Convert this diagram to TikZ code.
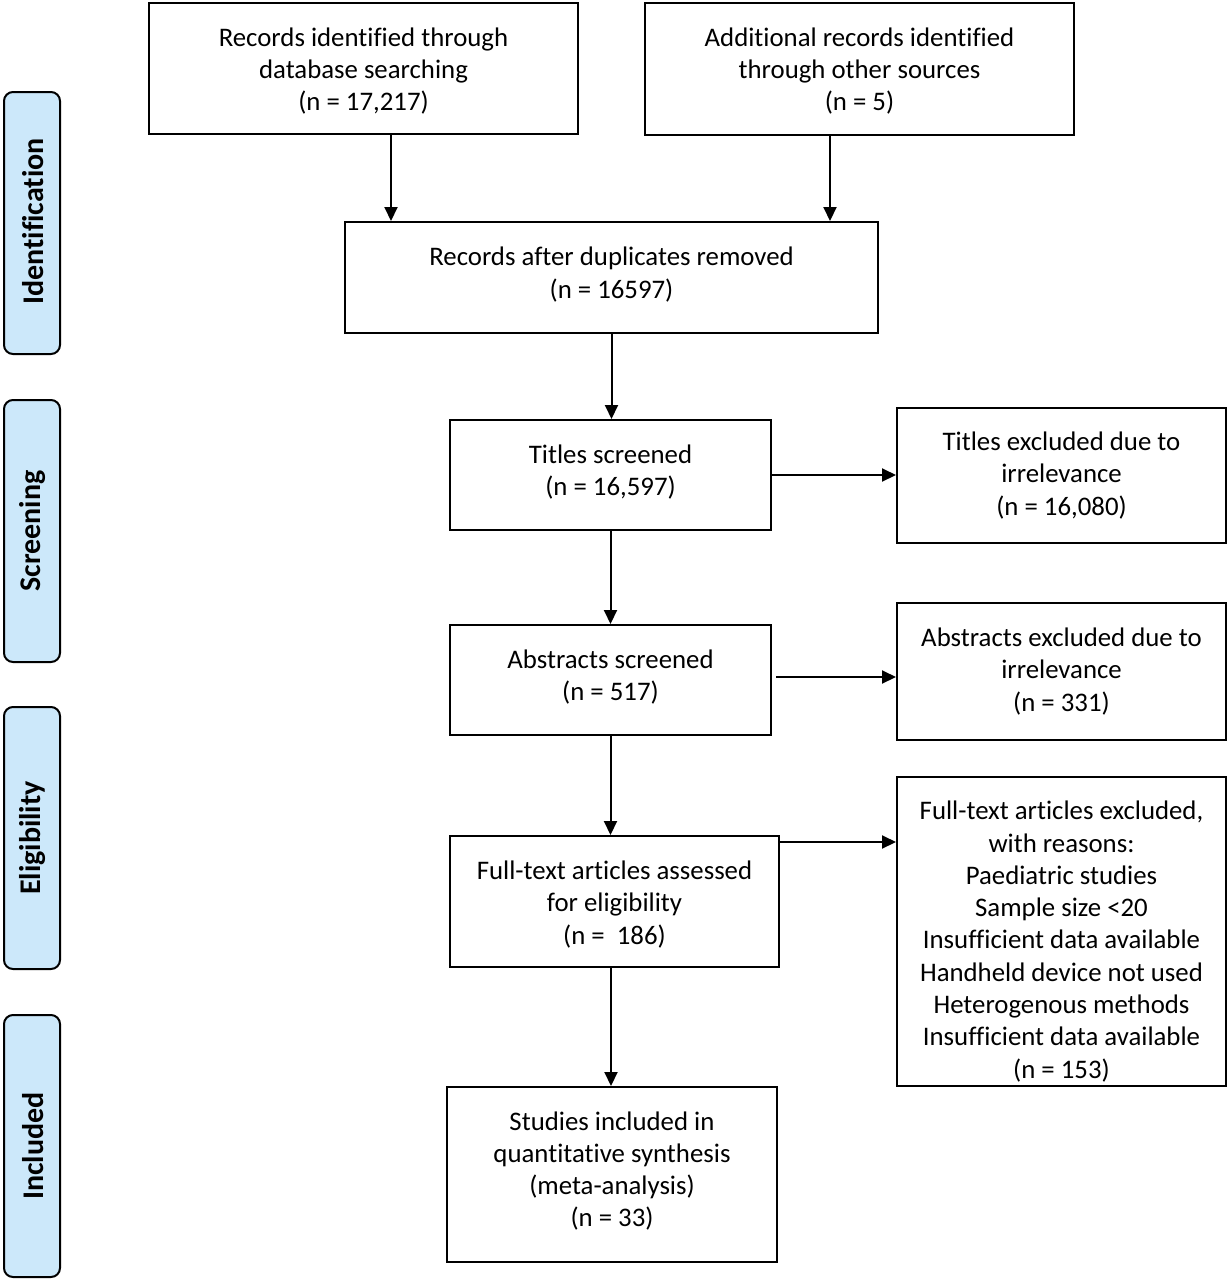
\documentclass[tikz,border=0pt]{standalone}
\usepackage{fontspec}
\setmainfont[Ligatures=NoCommon]{Carlito}
\usetikzlibrary{arrows.meta}
\definecolor{sidefill}{RGB}{204,232,250}
\tikzset{
  box/.style={draw=black, line width=2pt, inner sep=0pt},
  txt/.style={inner sep=0pt, align=center, font=\fontsize{26.8}{32.3}\selectfont},
  side/.style={draw=black, line width=2pt, fill=sidefill, rounded corners=9pt,
    minimum width=56pt, minimum height=262pt, inner sep=0pt},
  sidelabel/.style={rotate=90, font=\fontsize{30}{34}\selectfont\bfseries},
  arr/.style={line width=2pt, -{Triangle[length=14pt,width=13pt]}}
}
\begin{document}
\begin{tikzpicture}[x=1pt,y=-1pt]
\useasboundingbox (0,0) rectangle (1229,1280);
% sidebars
\node[side] (s1) at (32,223) {};
\node[sidelabel] (t1) at (33,221.5) {Identification};
\node[side] (s2) at (32,531) {};
\node[sidelabel] (t2) at (33,531) {Screening};
\node[side] (s3) at (32,838) {};
\node[sidelabel] (t3) at (33,838) {Eligibility};
\node[side] (s4) at (32,1146) {};
\node[sidelabel] (t4) at (33,1146) {Included};
% boxes
\node[box, minimum width=429pt, minimum height=131pt] (A) at (363.5,68.5) {};
\node[txt] (At) at ([yshift=-2.5pt]A.center)
  {Records identified through\\database searching\\(n = 17,217)};
\node[box, minimum width=429pt, minimum height=132pt] (B) at (859.5,69) {};
\node[txt] (Bt) at ([yshift=-2pt]B.center)
  {Additional records identified\\through other sources\\(n = 5)};
\node[box, minimum width=533pt, minimum height=111pt] (C) at (611.5,277.5) {};
\node[txt] (Ct) at ([yshift=3pt]C.center)
  {Records after duplicates removed\\(n = 16597)};
\node[box, minimum width=321pt, minimum height=110pt] (D) at (610.5,475) {};
\node[txt] (Dt) at ([yshift=3pt]D.center)
  {Titles screened\\(n = 16,597)};
\node[box, minimum width=329pt, minimum height=135pt] (E) at (1061.5,475.5) {};
\node[txt] (Et) at (E.center)
  {Titles excluded due to\\irrelevance\\(n = 16,080)};
\node[box, minimum width=321pt, minimum height=110pt] (F) at (610.5,680) {};
\node[txt] (Ft) at ([yshift=3pt]F.center)
  {Abstracts screened\\(n = 517)};
\node[box, minimum width=329pt, minimum height=137pt] (G) at (1061.5,671.5) {};
\node[txt] (Gt) at (G.center)
  {Abstracts excluded due to\\irrelevance\\(n = 331)};
\node[box, minimum width=329pt, minimum height=131pt] (H) at (614.5,901.5) {};
\node[txt] (Ht) at ([yshift=-3pt]H.center)
  {Full-text articles assessed\\for eligibility\\(n = \ 186)};
\node[box, minimum width=329pt, minimum height=309pt] (I) at (1061.5,931.5) {};
\node[txt] (It) at ([yshift=-10pt]I.center)
  {Full-text articles excluded,\\with reasons:\\Paediatric studies\\Sample size <20\\Insufficient data available\\Handheld device not used\\Heterogenous methods\\Insufficient data available\\(n = 153)};
\node[box, minimum width=330pt, minimum height=175pt] (J) at (612,1174.5) {};
\node[txt] (Jt) at ([yshift=3.5pt]J.center)
  {Studies included in\\quantitative synthesis\\(meta-analysis)\\(n = 33)};
% arrows
\draw[arr] ([xshift=27.5pt]A.south) -- ([xshift=27.5pt]A.south |- C.north);
\draw[arr] ([xshift=-29.5pt]B.south) -- ([xshift=-29.5pt]B.south |- C.north);
\draw[arr] (C.south) -- (C.south |- D.north);
\draw[arr] (D.east) -- (D.east -| E.west);
\draw[arr] (D.south) -- (D.south |- F.north);
\draw[arr] ([xshift=4pt,yshift=3pt]F.east) -- ([yshift=3pt]F.east -| G.west);
\draw[arr] (F.south) -- (F.south |- H.north);
\draw[arr] ([xshift=-2pt,yshift=-7pt]H.north east) -- ([yshift=-7pt]H.north east -| I.west);
\draw[arr] ([xshift=-3.5pt]H.south) -- ([xshift=-3.5pt]H.south |- J.north);
\end{tikzpicture}
\end{document}
